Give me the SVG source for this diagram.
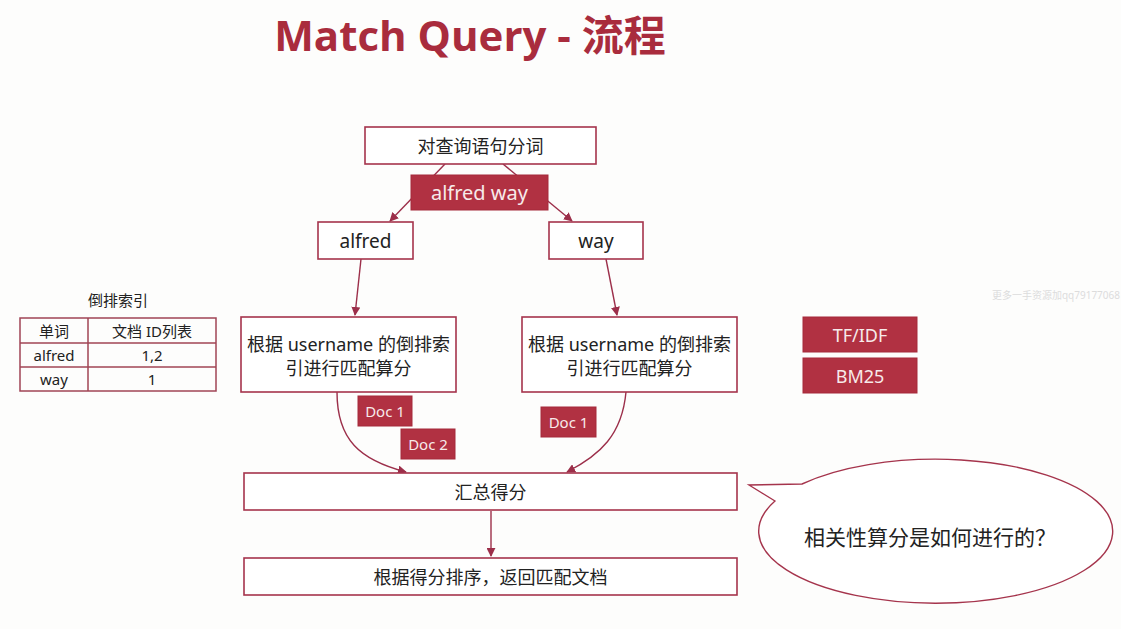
<svg xmlns="http://www.w3.org/2000/svg" width="1121" height="629" viewBox="0 0 1121 629">
<defs>
<marker id="ah" viewBox="0 0 10 10" refX="9" refY="5" markerWidth="9" markerHeight="9" markerUnits="userSpaceOnUse" orient="auto">
<path d="M0,0 L10,5 L0,10 z" fill="#9c2f4a"/>
</marker>
<style>
.box{fill:#ffffff;stroke:#a5344c;stroke-width:1.6}
.red{fill:#b13142;stroke:#a52a3a;stroke-width:1}
.t{font-family:"Noto Sans","Noto Sans CJK SC",sans-serif;fill:#222;text-anchor:middle;dominant-baseline:central}
.w{font-family:"Noto Sans","Noto Sans CJK SC",sans-serif;fill:#f7eaea;text-anchor:middle;dominant-baseline:central}
.ln{fill:none;stroke:#9c2f4a;stroke-width:1.4}
.cell{fill:none;stroke:#a04455;stroke-width:1.5}
</style>
</defs>
<rect width="1121" height="629" fill="#fdfdfc"/>
<text x="470" y="34" font-family="'Open Sans','Noto Sans CJK SC',sans-serif" font-weight="bold" font-size="42" fill="#a92c3d" text-anchor="middle" dominant-baseline="central">Match Query - 流程</text>
<text x="1120" y="295" font-family="'Noto Sans','Noto Sans CJK SC',sans-serif" font-size="10" fill="#dcdcdc" text-anchor="end" dominant-baseline="central">更多一手资源加qq79177068</text>

<g id="connectors">
<line class="ln" x1="445" y1="164" x2="390" y2="221" marker-end="url(#ah)"/>
<line class="ln" x1="503" y1="164" x2="572" y2="221" marker-end="url(#ah)"/>
<line class="ln" x1="361" y1="259" x2="355" y2="315" marker-end="url(#ah)"/>
<line class="ln" x1="606" y1="259" x2="617" y2="315" marker-end="url(#ah)"/>
<path class="ln" d="M337,392 C337,440 360,460 406,472" marker-end="url(#ah)"/>
<path class="ln" d="M626,392 C622,435 600,455 567,472" marker-end="url(#ah)"/>
<line class="ln" x1="491" y1="511" x2="491" y2="556" marker-end="url(#ah)"/>
</g>

<g id="node-tokenize"><rect class="box" x="365" y="127" width="231" height="37"/><text class="t" x="480.5" y="145.5" font-size="18">对查询语句分词</text></g>
<g id="node-alfredway"><rect class="red" x="411" y="175" width="137" height="35"/><text class="w" x="479.5" y="192.5" font-size="20">alfred way</text></g>
<g id="node-alfred"><rect class="box" x="318" y="222" width="95" height="37"/><text class="t" x="365.5" y="240.5" font-size="19">alfred</text></g>
<g id="node-way"><rect class="box" x="549" y="222" width="94" height="37"/><text class="t" x="596" y="240.5" font-size="19">way</text></g>
<g id="node-match-left"><rect class="box" x="241" y="317" width="215" height="75"/><text class="t" x="348.5" y="344" font-size="18">根据 username 的倒排索</text><text class="t" x="348.5" y="368" font-size="18">引进行匹配算分</text></g>
<g id="node-match-right"><rect class="box" x="522" y="317" width="215" height="75"/><text class="t" x="629.5" y="344" font-size="18">根据 username 的倒排索</text><text class="t" x="629.5" y="368" font-size="18">引进行匹配算分</text></g>
<g id="doc-left-1"><rect class="red" x="358" y="396" width="54" height="30"/><text class="w" x="385" y="411" font-size="15">Doc 1</text></g>
<g id="doc-left-2"><rect class="red" x="401" y="429" width="54" height="30"/><text class="w" x="428" y="444" font-size="15">Doc 2</text></g>
<g id="doc-right-1"><rect class="red" x="541" y="407" width="55" height="30"/><text class="w" x="568.5" y="422" font-size="15">Doc 1</text></g>
<g id="node-sum"><rect class="box" x="244" y="473" width="493" height="37"/><text class="t" x="490.5" y="492" font-size="18">汇总得分</text></g>
<g id="node-sort"><rect class="box" x="244" y="558" width="493" height="37"/><text class="t" x="490.5" y="577" font-size="18">根据得分排序，返回匹配文档</text></g>
<g id="node-tfidf"><rect class="red" x="803" y="317" width="114" height="35"/><text class="w" x="860" y="334.5" font-size="18">TF/IDF</text></g>
<g id="node-bm25"><rect class="red" x="803" y="358" width="114" height="35"/><text class="w" x="860" y="375.5" font-size="18">BM25</text></g>

<g id="inverted-index">
<text class="t" x="118" y="300" font-size="15">倒排索引</text>
<rect class="cell" x="20" y="318" width="196" height="73"/>
<line class="cell" x1="20" y1="343" x2="216" y2="343"/>
<line class="cell" x1="20" y1="367" x2="216" y2="367"/>
<line class="cell" x1="88" y1="318" x2="88" y2="391"/>
<text class="t" x="54" y="331" font-size="15">单词</text>
<text class="t" x="152" y="331" font-size="15">文档 ID列表</text>
<text class="t" x="54" y="355" font-size="15">alfred</text>
<text class="t" x="152" y="355" font-size="15">1,2</text>
<text class="t" x="54" y="379" font-size="15">way</text>
<text class="t" x="152" y="379" font-size="15">1</text>
</g>

<g id="bubble">
<path d="M802,484 A177,72 0 1 1 775,501 L749,485 Z" fill="#ffffff" stroke="#a5344c" stroke-width="1.4"/>
<text class="t" x="930" y="537" font-size="21">相关性算分是如何进行的？</text>
</g>
</svg>
